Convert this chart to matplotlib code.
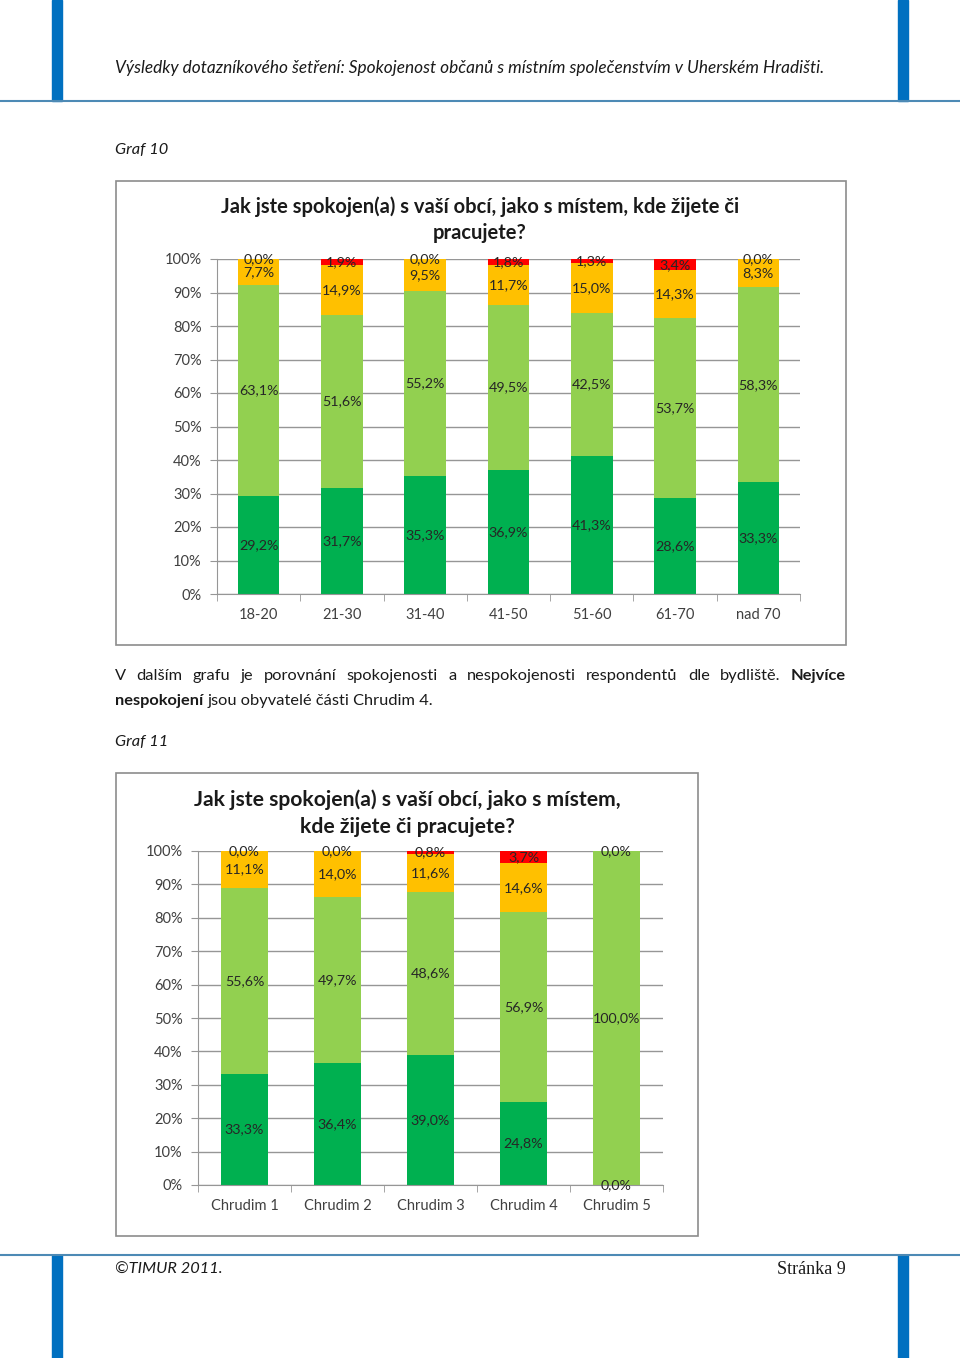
import matplotlib
matplotlib.use('Agg')
import matplotlib.pyplot as plt
from matplotlib.patches import Rectangle

# --- data -------------------------------------------------------------
age_groups = ['18-20', '21-30', '31-40', '41-50', '51-60', '61-70', 'nad 70']
age_very = [29.2, 31.7, 35.3, 36.9, 41.3, 28.6, 33.3]
age_rather = [63.1, 51.6, 55.2, 49.5, 42.5, 53.7, 58.3]
age_rather_not = [7.7, 14.9, 9.5, 11.7, 15.0, 14.3, 8.3]
age_not = [0.0, 1.9, 0.0, 1.8, 1.3, 3.4, 0.0]

parts = ['Chrudim 1', 'Chrudim 2', 'Chrudim 3', 'Chrudim 4', 'Chrudim 5']
part_very = [33.3, 36.4, 39.0, 24.8, 0.0]
part_rather = [55.6, 49.7, 48.6, 56.9, 100.0]
part_rather_not = [11.1, 14.0, 11.6, 14.6, 0.0]
part_not = [0.0, 0.0, 0.8, 3.7, 0.0]

colors = ['#00b050', '#92d050', '#ffc000', '#ff0000']

W, H = 960, 1358
FONT = 'Lato'
plt.rcParams['font.family'] = [FONT, 'DejaVu Sans']

fig = plt.figure(figsize=(W / 100, H / 100), dpi=100)
page = fig.add_axes([0, 0, 1, 1])
page.set_xlim(0, W)
page.set_ylim(H, 0)
page.axis('off')


def px_axes(left, top, right, bottom):
    return fig.add_axes([left / W, 1 - bottom / H, (right - left) / W, (bottom - top) / H])


def pct(v):
    return f'{v:.1f}'.replace('.', ',') + '%'


def draw_chart(ax, cats, series):
    x = range(len(cats))
    bottom = [0.0] * len(cats)
    used = set()
    for vals, col in zip(series, colors):
        ax.bar(x, vals, 0.5, bottom=bottom, color=col, zorder=2)
        for i, v in enumerate(vals):
            ypos = round(bottom[i] + v / 2, 2)
            if (i, ypos) not in used:
                ax.text(i, ypos, pct(v), ha='center', va='center',
                        fontsize=10.3, color='#262626', zorder=3)
                used.add((i, ypos))
        bottom = [b + v for b, v in zip(bottom, vals)]
    ax.set_xlim(-0.5, len(cats) - 0.5)
    ax.set_ylim(0, 100)
    ax.set_yticks(range(0, 101, 10))
    ax.set_yticklabels([f'{t}%' for t in range(0, 101, 10)])
    ax.set_xticks(list(x))
    ax.set_xticklabels(cats)
    ax.set_xticks([i - 0.5 for i in range(len(cats) + 1)], minor=True)
    ax.tick_params(axis='x', which='major', length=0, pad=10, labelsize=10.5, labelcolor='#404040')
    ax.tick_params(axis='x', which='minor', length=5, color='#969696', direction='out')
    ax.tick_params(axis='y', length=5, color='#969696', labelsize=10.5, labelcolor='#404040', pad=6)
    ax.yaxis.grid(True, color='#969696', lw=1, zorder=0)
    ax.set_axisbelow(True)
    for s in ['top', 'right']:
        ax.spines[s].set_visible(False)
    for s in ['left', 'bottom']:
        ax.spines[s].set_color('#969696')


# --- page decorations ------------------------------------------------
blue = '#0070c0'
rule = '#4d8ab5'
for x0 in (52, 898):
    page.add_patch(Rectangle((x0, 0), 10, 101, color=blue))
    page.add_patch(Rectangle((x0, 1255), 10, H - 1255, color=blue))
page.plot([0, W], [101, 101], color=rule, lw=1.5)
page.plot([0, W], [1255, 1255], color=rule, lw=1.5)

txt = '#1a1a1a'
page.text(115, 68, 'Výsledky dotazníkového šetření: Spokojenost občanů s místním společenstvím v Uherském Hradišti.',
          fontsize=12.4, style='italic', va='center', color=txt)
page.text(115, 150, 'Graf 10', fontsize=11.8, style='italic', va='center', color=txt)
page.text(115, 742, 'Graf 11', fontsize=11.8, style='italic', va='center', color=txt)
page.text(115, 1270, '©TIMUR 2011.', fontsize=11.8, style='italic', va='center', color=txt)
page.text(846, 1270, 'Stránka 9', fontsize=13, va='center', ha='right',
          family='Liberation Serif', color=txt)

# justified paragraph
renderer = fig.canvas.get_renderer()
line1 = [('V', 'normal'), ('dalším', 'normal'), ('grafu', 'normal'), ('je', 'normal'),
         ('porovnání', 'normal'), ('spokojenosti', 'normal'), ('a', 'normal'),
         ('nespokojenosti', 'normal'), ('respondentů', 'normal'), ('dle', 'normal'),
         ('bydliště.', 'normal'), ('Nejvíce', 'bold')]
items = []
for w, fw in line1:
    t = page.text(0, 676, w, fontsize=11.8, fontweight=fw, va='center', color=txt)
    items.append((t, t.get_window_extent(renderer).width))
gap = (846 - 115 - sum(wd for _, wd in items)) / (len(items) - 1)
xpos = 115
for t, wd in items:
    t.set_x(xpos)
    xpos += wd + gap
t1 = page.text(115, 701, 'nespokojení', fontsize=11.8, fontweight='bold', va='center', color=txt)
w1 = t1.get_window_extent(renderer).width
page.text(115 + w1 + 4, 701, 'jsou obyvatelé části Chrudim 4.', fontsize=11.8, va='center', color=txt)

# chart frames
page.add_patch(Rectangle((116, 181), 730, 464, fill=False, ec='#8c8c8c', lw=1.2))
page.add_patch(Rectangle((116, 773), 582, 463, fill=False, ec='#8c8c8c', lw=1.2))

# chart titles
page.text(480, 207, 'Jak jste spokojen(a) s vaší obcí, jako s místem, kde žijete či',
          fontsize=14.5, fontweight='bold', ha='center', va='center', color=txt)
page.text(480, 233, 'pracujete?', fontsize=14.5, fontweight='bold', ha='center', va='center', color=txt)
page.text(407, 800, 'Jak jste spokojen(a) s vaší obcí, jako s místem,',
          fontsize=15.2, fontweight='bold', ha='center', va='center', color=txt)
page.text(407, 827, 'kde žijete či pracujete?', fontsize=15.2, fontweight='bold',
          ha='center', va='center', color=txt)

# --- charts --------------------------------------------------------------
ax1 = px_axes(217, 259, 800, 594)
draw_chart(ax1, age_groups, [age_very, age_rather, age_rather_not, age_not])

ax2 = px_axes(198, 851, 663, 1185)
draw_chart(ax2, parts, [part_very, part_rather, part_rather_not, part_not])

fig.savefig('out.png', dpi=100)
